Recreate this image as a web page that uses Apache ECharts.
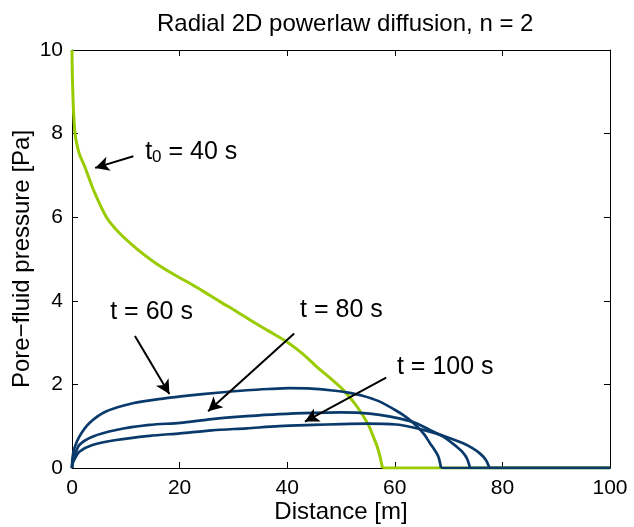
<!DOCTYPE html>
<html>
<head>
<meta charset="utf-8">
<script src="https://cdn.jsdelivr.net/npm/echarts@6/dist/echarts.min.js"></script>
<style>html,body{margin:0;padding:0;background:#fff}#c{width:634px;height:527px}</style>
</head>
<body>
<div id="c"></div>
<script>
// ---- data ----
const xTicks = [0, 20, 40, 60, 80, 100];
const yTicks = [0, 2, 4, 6, 8, 10];

// curves (front part); each is followed by a flat zero tail to x = 100
const greenX = [0, 0.05, 0.15, 0.3, 0.56, 0.9, 1.4, 2.4, 4.0, 6.4, 8.9, 12, 15.1, 18, 21.3, 24.5, 27.5, 30.5, 33.1, 36.5, 39.9, 43, 45.5, 48, 50.4, 52.5, 54.1, 55.2, 56, 56.7, 57.2, 57.7];
const greenY = [10, 9.5, 9.0, 8.5, 8.0, 7.75, 7.5, 7.2, 6.65, 6.0, 5.61, 5.25, 4.94, 4.7, 4.46, 4.22, 3.98, 3.75, 3.54, 3.28, 3.02, 2.72, 2.42, 2.15, 1.87, 1.55, 1.25, 1.0, 0.75, 0.52, 0.3, 0];

const t60X = [0, 0.1, 0.43, 1.36, 3.2, 6.3, 11.3, 17.5, 21.5, 27, 32.5, 36.5, 40.5, 44.5, 48, 51, 54, 57, 60.3, 62.3, 64.1, 65.5, 66.5, 67.4, 68.1, 68.6];
const t60Y = [0, 0.25, 0.47, 0.75, 1.07, 1.35, 1.55, 1.67, 1.73, 1.80, 1.86, 1.89, 1.91, 1.9, 1.86, 1.81, 1.73, 1.6, 1.37, 1.2, 1.0, 0.8, 0.6, 0.43, 0.27, 0];

const t80X = [0, 0.1, 0.43, 1.36, 3.8, 8.2, 14.4, 20.1, 26, 32.5, 38.5, 44.8, 50, 53.5, 57.2, 61, 64, 66.5, 69, 71.5, 72.6, 73.4, 74];
const t80Y = [0, 0.15, 0.27, 0.55, 0.75, 0.91, 1.03, 1.08, 1.17, 1.24, 1.29, 1.32, 1.33, 1.32, 1.27, 1.18, 1.07, 0.91, 0.75, 0.51, 0.38, 0.23, 0];

const t100X = [0, 0.1, 0.43, 1.36, 3.8, 8.2, 14.4, 20.1, 26, 32.5, 38.5, 44.8, 50, 55, 60.3, 63, 66.5, 69.5, 72.7, 74.5, 75.8, 76.9, 77.6];
const t100Y = [0, 0.1, 0.2, 0.39, 0.55, 0.67, 0.77, 0.83, 0.9, 0.95, 1.0, 1.03, 1.05, 1.06, 1.04, 0.98, 0.87, 0.75, 0.59, 0.47, 0.35, 0.2, 0];

const xEnd = 100;

// annotation labels: [x, y] in data units, text
const labelNames = ['t0', 't60', 't80', 't100'];
const labelPos = [[13.6, 7.56], [7.1, 3.74], [42.4, 3.78], [60.4, 2.42]];
const labelText = ['{a|t}{s|0}{a| = 40 s}', '{a|t = 60 s}', '{a|t = 80 s}', '{a|t = 100 s}'];
// arrows: tail -> head
const arrowTail = [[11.4, 7.46], [11.7, 3.16], [41.3, 3.22], [58.4, 2.16]];
const arrowHead = [[4.3, 7.18], [18.1, 1.77], [25.3, 1.36], [43.3, 1.11]];

const title = 'Radial 2D powerlaw diffusion, n = 2';
const xName = 'Distance [m]';
const yName = 'Pore\u2212fluid pressure [Pa]';

// ---- build ----
const zip = (xs, ys) => xs.map((x, i) => [x, ys[i]]);
const tail = (xs) => [[xs[xs.length - 1], 0], [xEnd, 0]];
const FONT = 'Liberation Sans, Arial, Helvetica, sans-serif';
const GREEN = '#99cc00';
const BLUE = '#0a3a6b';

const chart = echarts.init(document.getElementById('c'), null, {renderer: 'canvas'});

const baseAxis = {
  min: 0, axisLine: {show: true, onZero: false, lineStyle: {color: '#000', width: 1}},
  axisTick: {show: true, inside: true, length: 6, lineStyle: {color: '#000'}},
  splitLine: {show: false}, nameMoveOverlap: false
};

const lineSeries = (name, data, color, w, smooth, z) => ({
  name, type: 'line', data, showSymbol: false, symbol: 'none',
  smooth: smooth,
  lineStyle: {color, width: w}, xAxisIndex: 0, yAxisIndex: 0, animation: false, z: z
});

chart.setOption({
  animation: false,
  title: {
    text: title, left: 152, top: 7,
    textStyle: {fontFamily: FONT, fontSize: 24, fontWeight: 'normal', color: '#000'}
  },
  grid: {left: 72, right: 24, top: 50, bottom: 59, containLabel: false, outerBoundsMode: 'none'},
  xAxis: [
    Object.assign({}, baseAxis, {
      type: 'value', max: 100, interval: 20, position: 'bottom',
      name: xName, nameLocation: 'middle', nameGap: 32,
      nameTextStyle: {fontFamily: FONT, fontSize: 24, color: '#000'},
      axisLabel: {fontFamily: FONT, fontSize: 21, color: '#000', margin: 10,
        formatter: v => xTicks.includes(v) ? String(v) : ''}
    }),
    Object.assign({}, baseAxis, {
      type: 'value', max: 100, interval: 20, position: 'top', axisLabel: {show: false}
    })
  ],
  yAxis: [
    Object.assign({}, baseAxis, {
      type: 'value', max: 10, interval: 2, position: 'left',
      name: yName, nameLocation: 'middle', nameGap: 38, nameRotate: 90,
      nameTextStyle: {fontFamily: FONT, fontSize: 24, color: '#000'},
      axisLabel: {fontFamily: FONT, fontSize: 21, color: '#000', margin: 9,
        formatter: v => yTicks.includes(v) ? String(v) : ''}
    }),
    Object.assign({}, baseAxis, {
      type: 'value', max: 10, interval: 2, position: 'right', axisLabel: {show: false}
    })
  ],
  series: [
    lineSeries('t0 = 40 s', zip(greenX, greenY), GREEN, 3, 0.3, 2),
    lineSeries('t0 tail', tail(greenX), GREEN, 3, false, 2),
    lineSeries('t = 60 s', zip(t60X, t60Y), BLUE, 2.7, 0.3, 3),
    lineSeries('t = 80 s', zip(t80X, t80Y), BLUE, 2.7, 0.3, 3),
    lineSeries('t = 100 s', zip(t100X, t100Y), BLUE, 2.7, 0.3, 3),
    lineSeries('t60 tail', tail(t60X), BLUE, 2.7, false, 3),
    lineSeries('t80 tail', tail(t80X), BLUE, 2.7, false, 3),
    lineSeries('t100 tail', tail(t100X), BLUE, 2.7, false, 3),
    {
      name: 'annotations', type: 'line', data: [], xAxisIndex: 0, yAxisIndex: 0, z: 5,
      markLine: {
        silent: true, animation: false,
        symbol: ['none', 'arrow'], symbolSize: [11, 14],
        lineStyle: {color: '#000', width: 2, type: 'solid'},
        label: {show: false},
        data: arrowTail.map((t, i) => [{coord: t}, {coord: arrowHead[i]}])
      },
      markPoint: {
        silent: true, animation: false, symbol: 'circle', symbolSize: 0,
        data: labelPos.map((p, i) => ({
          name: labelNames[i], coord: p,
          label: {
            show: true, position: 'right', distance: 0, formatter: labelText[i],
            rich: {
              a: {fontFamily: FONT, fontSize: 25, color: '#000'},
              s: {fontFamily: FONT, fontSize: 17, color: '#000', padding: [10, 0, 0, 0]}
            }
          }
        }))
      }
    }
  ]
});
</script>
</body>
</html>
